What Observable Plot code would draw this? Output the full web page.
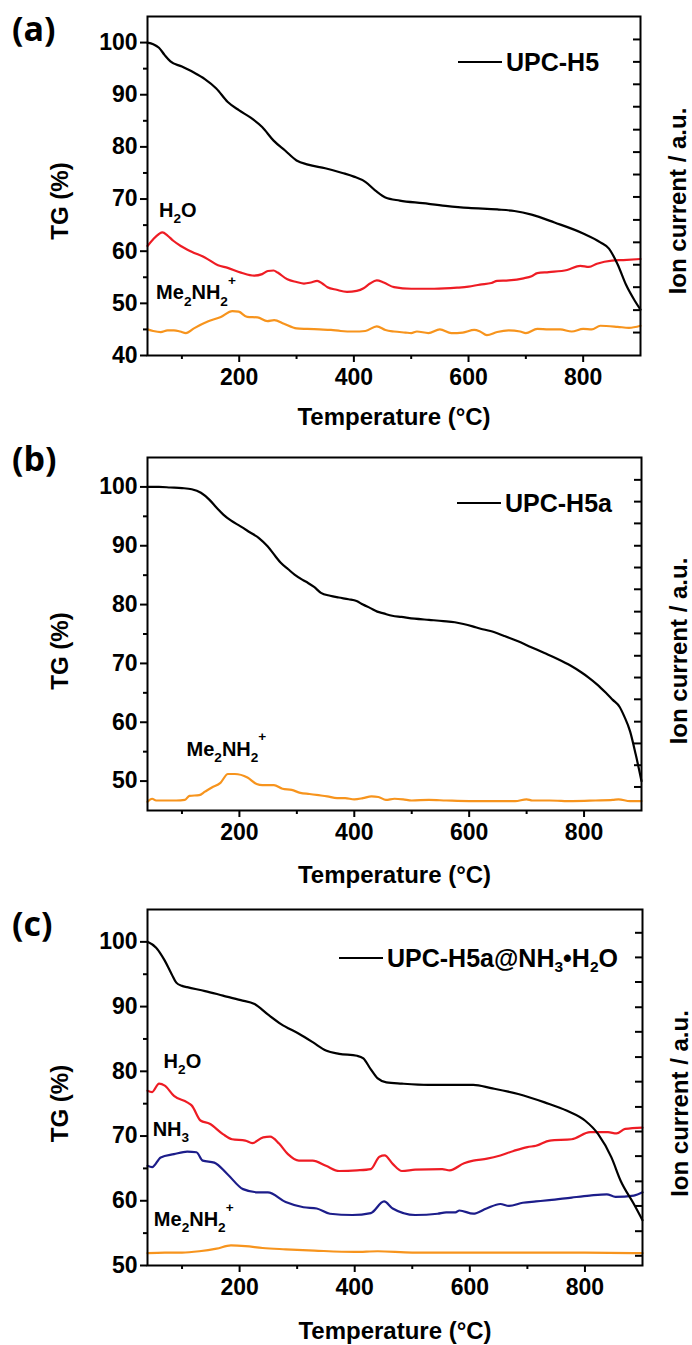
<!DOCTYPE html>
<html><head><meta charset="utf-8">
<script src="https://cdn.jsdelivr.net/npm/d3@7"></script>
<script src="https://cdn.jsdelivr.net/npm/@observablehq/plot@0.6"></script>
<style>
body{margin:0;background:#fff;font-family:"Liberation Sans",Arial,sans-serif;}
#root{position:relative;width:692px;height:1345px;overflow:hidden;}
.panel{position:absolute;left:0;width:692px;}
.plabel{position:absolute;font-family:"Open Sans",sans-serif;font-weight:700;font-size:34px;line-height:1;color:#000;}
.legend{position:absolute;font-family:"Liberation Sans",Arial,sans-serif;font-weight:bold;font-size:25px;line-height:26px;height:26px;display:flex;align-items:center;white-space:nowrap;color:#000;}
.legend .sw{display:inline-block;width:44px;height:0;border-top:2px solid #000;margin-right:4px;}
.legend sub{font-size:62%;vertical-align:-0.35em;line-height:0;}
</style>
</head><body><div id="root"></div>
<script>
// ---------- Panel (a): UPC-H5 ----------
const aTgT = [40,50,60,70,80,100,120,140,160,180,200,220,240,260,280,300,320,350,380,400,420,440,455,480,520,560,600,650,680,710,750,800,830,845,860,875,890,900];
const aTg  = [100,99.7,99.0,97.6,96.4,95.4,94.3,93.0,91.2,88.6,87.0,85.6,83.8,81.2,79.3,77.4,76.6,75.9,75.0,74.3,73.3,71.4,70.3,69.7,69.2,68.7,68.3,68.0,67.7,67.0,65.5,63.4,61.7,60.5,57.5,53.5,50.5,48.8];
const aH2oT = [40,50,60,66,75,85,98,117,140,163,180,203,226,240,250,260,267,284,300,313,325,336,345,354,370,388,405,417,428,440,452,470,500,540,580,600,620,640,650,670,696,710,720,740,772,795,810,824,850,870,900];
const aH2o  = [61.0,62.3,63.3,63.6,63.0,62.0,61.0,59.9,58.8,57.3,56.8,55.9,55.3,55.6,56.2,56.3,55.9,54.6,54.1,53.8,54.0,54.3,53.8,53.1,52.6,52.2,52.4,52.9,53.8,54.4,54.0,53.1,52.8,52.8,53.0,53.2,53.6,53.9,54.3,54.4,54.8,55.2,55.8,56.0,56.4,57.2,57.0,57.6,58.2,58.3,58.5];
const aMeT = [40,50,63,75,86,97,107,121,145,168,188,199,214,232,249,261,278,300,319,340,360,377,400,420,440,455,470,490,500,510,530,550,570,590,610,620,632,650,670,690,700,720,740,760,780,800,815,830,860,880,900];
const aMe  = [45.0,44.7,44.5,44.8,44.8,44.6,44.3,45.2,46.5,47.4,48.5,48.4,47.4,47.3,46.6,46.8,46.1,45.2,45.1,45.0,44.9,44.7,44.6,44.7,45.6,44.9,44.6,44.4,44.3,44.6,44.3,45.0,44.3,44.4,44.9,44.6,43.9,44.5,44.8,44.6,44.3,45.1,45.0,45.0,44.6,45.1,45.0,45.7,45.5,45.3,45.7];
const aLabT = [60,55];
const aLabV = [67.8,52.0];
const aLabText = ["H_2O","Me_2NH_2^+"];

// ---------- Panel (b): UPC-H5a ----------
const bTgT = [40,60,80,100,117,133,148,160,172,185,202,218,234,249,262,272,285,296,310,319,330,342,358,373,390,404,415,428,440,451,466,482,505,530,555,575,590,606,620,637,660,684,707,730,753,777,795,808,823,838,850,862,870,880,890,900];
const bTg  = [100,100,99.9,99.8,99.6,99.0,97.8,96.5,95.3,94.3,93.3,92.3,91.3,89.9,88.3,87.1,86.0,85.1,84.2,83.7,83.0,82.0,81.5,81.2,80.9,80.6,80.0,79.4,78.8,78.5,78.1,77.9,77.6,77.4,77.2,77.0,76.7,76.3,75.9,75.5,74.7,73.8,72.8,71.8,70.8,69.6,68.5,67.6,66.4,65.0,63.8,62.6,61.0,58.5,54.5,50.0];
const bMeT = [40,48,55,70,90,105,113,130,140,152,167,180,192,214,230,240,260,275,291,306,322,338,353,370,384,400,415,430,442,455,470,485,500,530,560,600,640,680,700,710,740,780,820,850,860,880,900];
const bMe  = [46.5,47.0,46.7,46.7,46.7,46.8,47.5,47.6,48.2,48.9,49.7,51.2,51.2,50.6,49.5,49.3,49.3,48.7,48.5,48.0,47.8,47.6,47.4,47.1,47.1,46.9,47.1,47.4,47.3,46.8,47.0,46.9,46.7,46.8,46.7,46.6,46.6,46.6,46.9,46.7,46.7,46.6,46.7,46.8,46.9,46.6,46.6];
const bLabT = [108];
const bLabV = [55.4];
const bLabText = ["Me_2NH_2^+"];

// ---------- Panel (c): UPC-H5a@NH3·H2O ----------
const cTgT = [40,55,70,82,90,100,109,140,171,202,226,249,272,303,327,350,373,404,415,428,440,455,482,528,606,637,684,730,769,800,823,846,862,885,900];
const cTg  = [100,99.1,97.1,95.0,93.7,93.2,93.0,92.4,91.7,91.0,90.4,88.8,87.3,85.8,84.5,83.2,82.7,82.4,82.0,80.3,78.9,78.3,78.1,77.9,77.9,77.4,76.5,75.2,73.9,72.4,70.3,66.7,63.1,59.5,57.0];
const cH2oT = [40,48,60,70,86,109,117,132,148,171,187,210,222,241,253,269,284,303,327,350,373,404,428,443,452,466,482,505,552,565,590,606,630,653,676,700,715,739,777,809,840,855,870,900];
const cH2o  = [77.0,76.8,78.1,77.8,76.2,75.2,74.7,72.4,71.9,70.3,69.5,69.3,68.9,69.8,69.9,68.8,67.2,66.2,66.2,65.4,64.6,64.7,64.9,66.8,67.0,65.7,64.6,64.8,64.9,64.7,65.8,66.2,66.5,67.0,67.7,68.3,68.5,69.3,69.5,70.6,70.6,70.4,71.1,71.3];
const cNh3T = [40,48,63,86,109,125,136,156,179,206,233,249,280,311,334,357,396,428,451,466,505,544,559,575,582,606,629,653,668,692,715,738,777,808,838,853,885,900];
const cNh3  = [65.4,65.2,66.7,67.2,67.6,67.5,66.2,65.9,64.1,61.8,61.3,61.3,59.8,59.0,58.8,58.0,57.8,58.1,59.9,58.8,57.8,58.0,58.2,58.2,58.5,58.0,58.8,59.5,59.2,59.7,59.9,60.1,60.5,60.8,61.0,60.6,60.8,61.3];
const cMeT = [40,70,100,130,160,185,210,240,280,330,400,440,500,600,700,800,900];
const cMe  = [51.9,52.0,52.0,52.2,52.6,53.1,53.0,52.7,52.5,52.3,52.1,52.2,52.0,52.0,52.0,52.0,51.9];
const cLabT = [68,49,51];
const cLabV = [81.5,71.0,57.1];
const cLabText = ["H_2O","NH_3","Me_2NH_2^+"];

// ---------- axes ----------
const xMajor = [200,400,600,800];
const xMinor = [100,300,500,700];
const aYMajor = [40,50,60,70,80,90,100];
const aYMinor = [45,55,65,75,85,95];
const bYMajor = [50,60,70,80,90,100];
const bYMinor = [55,65,75,85,95];
const cYMajor = [50,60,70,80,90,100];
const cYMinor = [55,65,75,85,95];
// unlabeled ion-current axis ticks (positions in TG units of each panel)
const aIonTicks = [100.6,96.3,92.0,87.7,83.3,79.0,74.7,70.4,66.0,61.7,57.4,53.1,48.7,44.4];
const bIonTicks = [101.2,97.5,93.8,90.0,86.3,82.6,78.8,75.1,71.3,67.6,63.9,60.1,56.4,52.7,49.0];
const cIonTicks = [101.4,97.6,93.8,89.9,86.1,82.2,78.4,74.5,70.7,66.9,63.0,59.2,55.3,51.5];

const colors = {TG:"#000000", H2O:"#ee1c24", NH3:"#1c1d8a", Me:"#f7941d"};

function table(T, V) { return T.map((t, i) => ({T: t, v: V[i]})); }

const panels = [
  {top:0, height:440, mt:16, mb:85, mr:52, yDomain:[40,105], yMajor:aYMajor, yMinor:aYMinor, ion:aIonTicks,
   series:[["Me",aMeT,aMe],["H2O",aH2oT,aH2o],["TG",aTgT,aTg]],
   labT:aLabT, labV:aLabV, labText:aLabText, titleDy:62, sideDy:15,
   plabel:"(a)", plabelTop:11, legendHtml:"UPC-H5", legendLeft:458, legendTop:49},
  {top:440, height:450, mt:17, mb:80, mr:51, yDomain:[45,105], yMajor:bYMajor, yMinor:bYMinor, ion:bIonTicks,
   series:[["Me",bMeT,bMe],["TG",bTgT,bTg]],
   labT:bLabT, labV:bLabV, labText:bLabText, titleDy:65, sideDy:17,
   plabel:"(b)", plabelTop:441, legendHtml:"UPC-H5a", legendLeft:457, legendTop:490},
  {top:890, height:455, mt:19, mb:80, mr:50, yDomain:[50,105], yMajor:cYMajor, yMinor:cYMinor, ion:cIonTicks,
   series:[["Me",cMeT,cMe],["NH3",cNh3T,cNh3],["H2O",cH2oT,cH2o],["TG",cTgT,cTg]],
   labT:cLabT, labV:cLabV, labText:cLabText, titleDy:66, sideDy:16,
   plabel:"(c)", plabelTop:906, legendHtml:"UPC-H5a@NH<sub>3</sub>&#8226;H<sub>2</sub>O", legendLeft:339, legendTop:945}
];

// convert "H_2O" / "Me_2NH_2^+" into tspans with sub/superscripts
function richify(svg, fs) {
  svg.querySelectorAll("text").forEach(t => {
    const s = t.textContent;
    if (!/[_^]/.test(s)) return;
    const parts = [];
    let i = 0;
    while (i < s.length) {
      const c = s[i];
      if (c === "_" || c === "^") { parts.push({txt: s[i+1], kind: c}); i += 2; }
      else { let j = i; while (j < s.length && s[j] !== "_" && s[j] !== "^") j++; parts.push({txt: s.slice(i, j), kind: ""}); i = j; }
    }
    t.textContent = "";
    let cur = 0;
    for (const p of parts) {
      const target = p.kind === "_" ? 0.32 * fs : p.kind === "^" ? -0.72 * fs : 0;
      const ts = document.createElementNS("http://www.w3.org/2000/svg", "tspan");
      ts.setAttribute("dy", target - cur);
      if (p.kind) ts.setAttribute("font-size", 0.68 * fs);
      ts.textContent = p.txt;
      t.appendChild(ts);
      cur = target;
    }
  });
}

const LABEL_FS = 20;
const root = document.getElementById("root");
for (const p of panels) {
  const div = document.createElement("div");
  div.className = "panel";
  div.style.top = p.top + "px";
  div.style.height = p.height + "px";
  const frameW = 692 - 147 - p.mr;
  const lines = p.series.map(([key, T, V]) =>
    Plot.line(table(T, V), {x: "T", y: "v", stroke: colors[key], strokeWidth: 2.2, curve: "monotone-x"}));
  const labels = p.labT.map((t, i) => ({T: t, v: p.labV[i], s: p.labText[i]}));
  const svg = Plot.plot({
    width: 692, height: p.height,
    marginLeft: 147, marginRight: p.mr, marginTop: p.mt, marginBottom: p.mb,
    x: {domain: [40, 900]},
    y: {domain: p.yDomain},
    style: {fontFamily: "'Liberation Sans', Arial, sans-serif", fontWeight: "bold", fontSize: "23px", color: "#000", background: "#fff", overflow: "visible"},
    marks: [
      ...lines,
      Plot.frame({stroke: "#000", strokeWidth: 2}),
      Plot.axisY({ticks: p.yMajor, tickSize: 7, tickPadding: 3, strokeWidth: 2, label: null}),
      Plot.axisY({ticks: p.yMinor, tickSize: 4, tickFormat: () => "", strokeWidth: 2, label: null}),
      Plot.axisX({ticks: xMajor, tickSize: 7, tickPadding: 6, strokeWidth: 2, label: null}),
      Plot.axisX({ticks: xMinor, tickSize: 4, tickFormat: () => "", strokeWidth: 2, label: null}),
      // inward ticks of the unlabeled ion-current axis on the right edge
      Plot.tickY(p.ion, {y: d => d, stroke: "#000", strokeWidth: 2, insetLeft: frameW - 7}),
      Plot.text(["Temperature (°C)"], {text: d => d, frameAnchor: "bottom", lineAnchor: "middle", textAnchor: "middle", dy: p.titleDy, fontSize: 24}),
      Plot.text(["TG (%)"], {text: d => d, frameAnchor: "left", rotate: -90, textAnchor: "middle", lineAnchor: "middle", dx: -87, dy: p.sideDy, fontSize: 24}),
      Plot.text(["Ion current / a.u."], {text: d => d, frameAnchor: "right", rotate: -90, textAnchor: "middle", lineAnchor: "middle", dx: 38, dy: p.sideDy, fontSize: 24}),
      Plot.text(labels, {x: "T", y: "v", text: "s", textAnchor: "start", fontSize: LABEL_FS})
    ]
  });
  richify(svg, LABEL_FS);
  div.appendChild(svg);
  root.appendChild(div);

  const pl = document.createElement("div");
  pl.className = "plabel";
  pl.style.left = "12px";
  pl.style.top = p.plabelTop + "px";
  pl.textContent = p.plabel;
  root.appendChild(pl);

  const lg = document.createElement("div");
  lg.className = "legend";
  lg.style.left = p.legendLeft + "px";
  lg.style.top = p.legendTop + "px";
  lg.innerHTML = '<span class="sw"></span><span>' + p.legendHtml + '</span>';
  root.appendChild(lg);
}
</script>
</body></html>
